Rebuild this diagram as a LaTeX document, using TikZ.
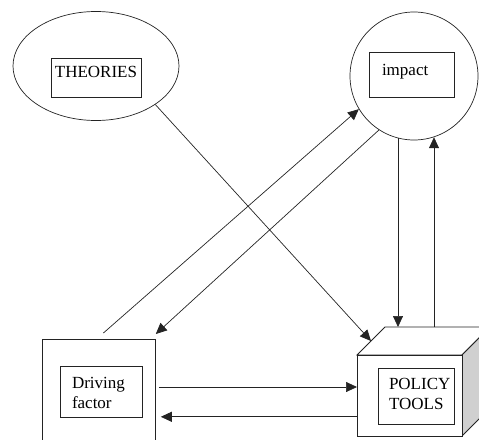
\documentclass[tikz,border=0pt]{standalone}
\usepackage{fontspec}
\setmainfont{Liberation Serif}
\usetikzlibrary{arrows.meta,shapes.geometric,positioning,calc}
\definecolor{inkgray}{RGB}{35,35,35}
\definecolor{sidegray}{RGB}{208,208,208}
\tikzset{
	bubble/.style={
		ellipse,
		draw=inkgray,
		line width=0.7pt,
		inner sep=0pt,
	},
	namebox/.style={
		rectangle,
		draw=inkgray,
		line width=0.7pt,
		inner ysep=0pt,
		align=left,
		font=\rmfamily\fontsize{17}{20}\selectfont,
	},
	holder/.style={
		rectangle,
		draw=inkgray,
		line width=0.8pt,
		anchor=north west,
		inner sep=0pt,
	},
	cubeface/.style={
		draw=inkgray,
		line width=0.8pt,
		line join=miter,
	},
	link/.style={
		-{Triangle[length=11pt,width=10pt]},
		draw=inkgray,
		line width=0.7pt,
	},
}
\begin{document}
\begin{tikzpicture}[x=1pt,y=-1pt]
\useasboundingbox (0,0) rectangle (479,439);

\node[bubble,minimum width=166pt,minimum height=109pt] (theories) at (96,66) {};
\node[namebox,minimum width=90pt,text height=19pt,text depth=20pt] (theorybox) at (96,77.5) {THEORIES};

\node[bubble,circle,minimum size=128pt] (impact) at (414,76) {};
\node[namebox,inner xsep=13pt,text width=59pt,text height=23pt,text depth=22pt] (impactbox) at (411.5,74.5) {impact};

\node[holder,minimum width=113pt,minimum height=115pt] (driving) at (42,339) {};
\node[namebox,inner xsep=12pt,text width=58pt,text height=22pt,text depth=29pt] (drivingbox) at (101,391.5) {Driving\\factor};

\draw[cubeface,fill=white]
  (357,355) -- ++(28,-28) -- ++(105,0) -- ++(-28,28) -- cycle;
\draw[cubeface,fill=sidegray]
  (462,355) -- ++(28,-28) -- ++(0,81) -- ++(-28,28) -- cycle;
\node[holder,fill=white,minimum width=105pt,minimum height=81pt] (policy) at (357,355) {};
\node[namebox,inner xsep=11pt,text width=54pt,text height=21pt,text depth=35pt] (policybox) at (416,396) {POLICY\\TOOLS};

\coordinate (cubeedge) at ($(policy.north west)+(14,-14)$);
\coordinate (backin) at ($(policy.north west)+(41,-28)$);
\coordinate (backout) at ($(policy.north west)+(77,-28)$);
\coordinate (drivetop) at ($(driving.north)+(4.5,-6)$);
\coordinate (dfin) at ($(driving.north east)+(0,-5)$);
\coordinate (dfout) at ($(driving.north east)+(3,48)$);
\coordinate (ptout) at ($(policy.south west)+(0,-20)$);
\coordinate (ptin) at ($(ptout -| driving.east)+(5,0)$);

\draw[link]
  (theories.-33)
  --
  (cubeedge);

\draw[link]
  (drivetop)
  --
  (impact.211);

\draw[link]
  (impact.237)
  --
  (dfin);

\draw[link]
  (impact.255.5 -| backin)
  --
  (backin);

\draw[link]
  (backout)
  --
  (impact.288 -| backout);

\draw[link]
  (dfout)
  --
  (dfout -| policy.west);

\draw[link]
  (ptout)
  --
  (ptin);

\end{tikzpicture}
\end{document}
